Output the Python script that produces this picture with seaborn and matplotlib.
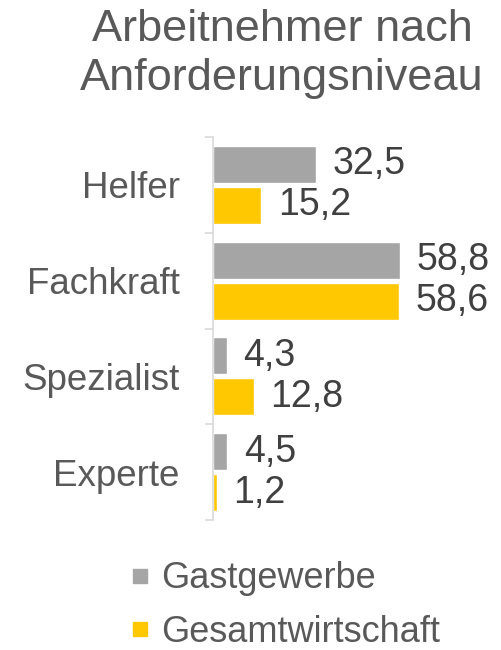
import pandas as pd
import numpy as np
import matplotlib.pyplot as plt
import seaborn as sns
from matplotlib.lines import Line2D

# data
kategorien = ["Helfer", "Fachkraft", "Spezialist", "Experte"]
gastgewerbe = [32.5, 58.8, 4.3, 4.5]
gesamtwirtschaft = [15.2, 58.6, 12.8, 1.2]
reihen = ["Gastgewerbe", "Gesamtwirtschaft"]
farben = ["#A5A5A5", "#FFC800"]

df = pd.DataFrame({
    "Kategorie": kategorien * 2,
    "Wert": gastgewerbe + gesamtwirtschaft,
    "Reihe": [reihen[0]] * 4 + [reihen[1]] * 4,
})

sns.set_style("white")
plt.rcParams["font.family"] = ["Liberation Sans", "DejaVu Sans"]

W, H = 502, 650
fig = plt.figure(figsize=(W / 100, H / 100), dpi=100)
ax = fig.add_axes([213 / W, 1 - 520 / H, (400 - 213) / W, (520 - 137) / H])

sns.barplot(data=df, y="Kategorie", x="Wert", hue="Reihe", orient="h",
            palette=farben, width=0.86, gap=0.1, legend=False, ax=ax,
            saturation=1)

ax.set_xlim(0, 58.8)
ax.set_ylim(3.5, -0.5)

for cont in ax.containers:
    labels = [f"{b.get_width():.1f}".replace(".", ",") for b in cont]
    ax.bar_label(cont, labels=labels, padding=12, fontsize=27, color="#404040")

# axis styling
for s in ["top", "right", "bottom"]:
    ax.spines[s].set_visible(False)
ax.spines["left"].set_color("#D9D9D9")
ax.spines["left"].set_linewidth(1.2)
ax.set_xticks([])
ax.set_xlabel("")
ax.set_ylabel("")
ax.set_yticks(range(4))
ax.set_yticklabels(kategorien, fontsize=26.5, color="#595959")
ax.tick_params(axis="y", which="major", length=0, pad=24)
ax.set_yticks(np.arange(-0.5, 4, 1), minor=True)
ax.tick_params(axis="y", which="minor", left=True, length=6,
               color="#D9D9D9", width=1.2)

fig.text(282 / W, 1 - 54 / H, "Arbeitnehmer nach\nAnforderungsniveau",
         ha="center", va="center", fontsize=32.5, color="#595959", linespacing=1.22)

handles = [Line2D([], [], marker="s", linestyle="", markersize=10,
                  color=c) for c in farben]
fig.legend(handles, reihen, loc="upper left", bbox_to_anchor=(93 / W, 1 - 536 / H),
           frameon=False, fontsize=26, labelcolor="#595959",
           handletextpad=0.0, labelspacing=0.52, handlelength=1.2,
           borderpad=0.2)

fig.savefig("out.png", dpi=100)
